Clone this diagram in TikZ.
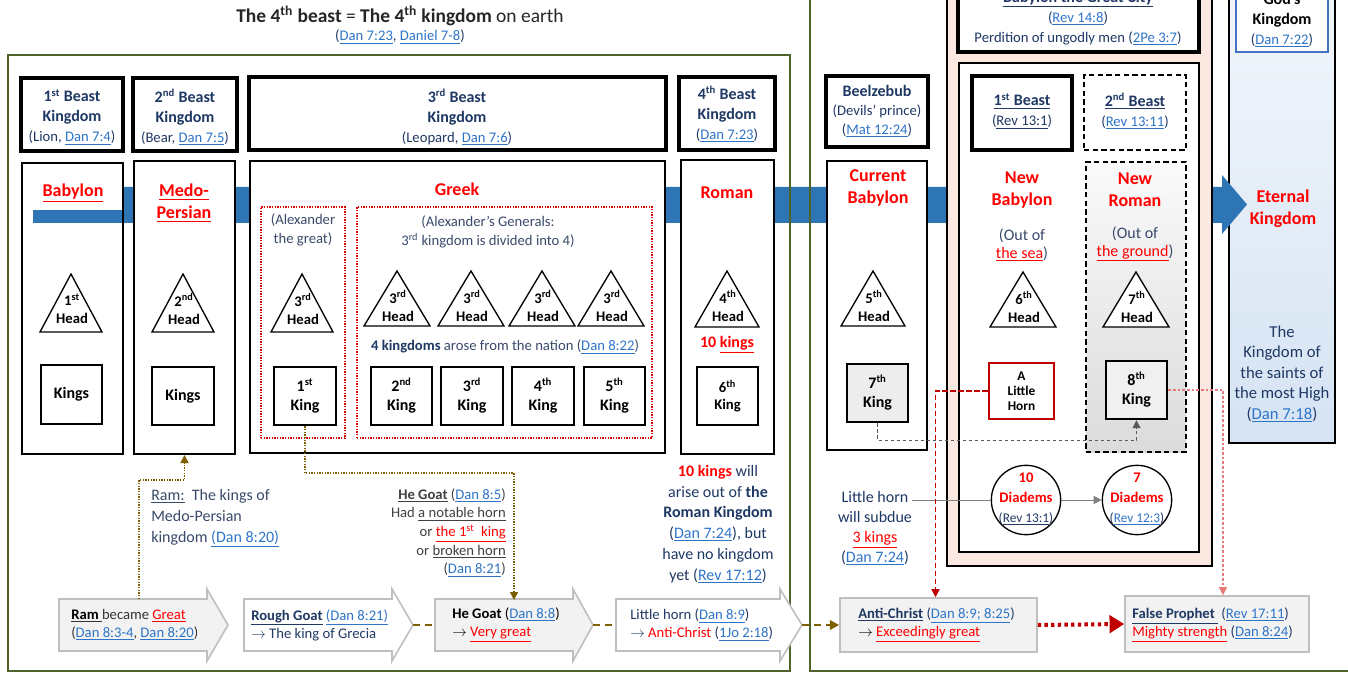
\documentclass[tikz,border=0pt]{standalone}
\usepackage{fontspec}
\setmainfont{Carlito}
\usetikzlibrary{fit,arrows.meta,calc}
\definecolor{navy}{HTML}{1F3864}
\definecolor{slate}{HTML}{3A4A6B}
\definecolor{lnk}{HTML}{2E75C8}
\definecolor{rd}{HTML}{FF0000}
\definecolor{dred}{HTML}{C00000}
\definecolor{grn}{HTML}{4F6228}
\definecolor{barblue}{HTML}{2E75B6}
\definecolor{brn}{HTML}{7F6000}
\definecolor{salmon}{HTML}{FBE9E1}
\definecolor{arrfill}{HTML}{F2F2F2}
\definecolor{arredge}{HTML}{BFBFBF}
\definecolor{godb}{HTML}{4472C4}
\definecolor{gtop}{HTML}{F2F6FB}
\definecolor{gbot}{HTML}{D5E3F3}
\definecolor{pinkd}{HTML}{E87A7A}
\newcommand\lk[1]{{\color{lnk}\underline{#1}}}
\newcommand\ru[1]{{\color{rd}\underline{#1}}}
\newcommand\sups[1]{\textsuperscript{#1}}
\newcommand\bfa[1]{{\fontsize{12}{15}\selectfont\bfseries #1}}
\newcommand\Head[6]{\draw[triline] (#1,#2) coordinate (#6) -- ++(-#3,#4) -- ++(2*#3,0) -- cycle;
  \node[headtxt] at (#1+1,#2+35) {#5\\Head};}
\newcommand\BArrow[5]{\draw[arrshape, fill=#4] (#1,599) -- (#2,599) -- (#2,589) -- (#3,625) -- (#2,661) -- (#2,651) -- (#1,651) -- cycle;
  \coordinate (#5w) at (#1,625); \coordinate (#5e) at (#3,625);}
\tikzset{
 txt/.style={inner sep=0pt, align=center, text=navy, font=\fontsize{11}{15}\selectfont},
 txtb/.style={inner sep=0pt, align=center, text=navy, font=\fontsize{12}{15.6}\selectfont},
 redt/.style={inner sep=0pt, align=center, text=rd, font=\bfseries\fontsize{13.5}{16.5}\selectfont},
 thickbox/.style={draw=black, line width=3pt, fill=white, inner sep=0pt},
 tallbox/.style={draw=black, line width=1.5pt, fill=white, inner sep=0pt},
 kingbox/.style={draw=black, line width=1.8pt, fill=white, inner sep=0pt},
 kingtxt/.style={inner sep=0pt, align=center, text=black, font=\bfseries\fontsize{12}{14.5}\selectfont},
 triline/.style={draw=black, line width=1pt, fill=white},
 headtxt/.style={inner sep=0pt, align=center, text=black, font=\bfseries\fontsize{11}{13.5}\selectfont},
 redbox/.style={draw=red!85!black, line width=1.1pt, dash pattern=on 1pt off 1pt, inner sep=0pt},
 arrshape/.style={draw=arredge, line width=1.2pt},
 arrtxt/.style={inner sep=0pt, align=left, anchor=west, text=navy, font=\fontsize{11}{13.5}\selectfont},
 brdot/.style={draw=brn, line width=1.1pt, dash pattern=on 1pt off 1pt, -{Triangle[length=6pt,width=6pt]}},
 brdash/.style={draw=brn, line width=2pt, dash pattern=on 5pt off 4pt},
 reddot/.style={draw=dred, line width=3pt, dash pattern=on 2.5pt off 2.5pt, -{Triangle[length=11pt,width=13pt]}},
 reddash/.style={draw=dred, line width=1.1pt, dash pattern=on 4pt off 2pt, -{Triangle[length=6pt,width=6pt]}},
 pinkdot/.style={draw=pinkd, line width=0.8pt, dash pattern=on 2pt off 1.5pt, -{Triangle[length=6pt,width=6pt]}},
 graydash/.style={draw=black!65, line width=0.8pt, dash pattern=on 2.5pt off 2pt, -{Triangle[length=6pt,width=6pt]}},
 grayline/.style={draw=black!50, line width=0.7pt},
}
\begin{document}
\begin{tikzpicture}[x=0.75pt,y=-0.75pt]
\useasboundingbox (0,0) rectangle (1348,673);
\clip (0,0) rectangle (1348,673);
\fill[white] (0,0) rectangle (1348,673);

% title
\node[inner sep=0pt, text=black!85, font=\fontsize{14.6}{17}\selectfont] (title) at (400,16) {\textbf{The 4\sups{th} beast} = \textbf{The 4\sups{th} kingdom} on earth};
\node[txt] (subtitle) at (400,37) {(\lk{Dan 7:23}, \lk{Daniel 7-8})};

% God's kingdom column
\node[fit={(1229,-10)(1335,443)}, draw=black, line width=1.5pt, top color=gtop, bottom color=gbot, inner sep=0pt] (godcol) {};
\node[fit={(1236,-10)(1328,52)}, draw=godb, line width=2.2pt, fill=white, inner sep=0pt] (godk) {};
\node[txt, text=black] at (1282,20) {\bfa{God’s}\\\bfa{Kingdom}\\{\color{navy}(\lk{Dan 7:22})}};

% blue timeline bar
\fill[barblue] (33,187) -- (1222,187) -- (1222,175) -- (1247,204.5) -- (1222,234) -- (1222,223) -- (33,223) -- cycle;

% green frames
\node[fit={(8,55)(790,671)}, draw=grn, line width=1.5pt, inner sep=0pt] (leftframe) {};
\node[fit={(810,-10)(1370,671)}, draw=grn, line width=1.5pt, inner sep=0pt] (rightframe) {};

% salmon frame
\node[fit={(947,-10)(1212,566)}, draw=black, line width=1.5pt, fill=salmon, inner sep=0pt] (salm) {};
\node[fit={(959,63)(1199,552)}, draw=black, line width=1.5pt, fill=white, inner sep=0pt] (inner) {};
\node[thickbox, fit={(958,-10)(1199,52)}] (bgc) {};
\node[txt] at (1078,18) {\underline{\bfa{Babylon the Great City}}\\(\lk{Rev 14:8})\\Perdition of ungodly men (\lk{2Pe 3:7})};

% top row beast boxes
\node[thickbox, fit={(21,78)(123,151)}] (tb1) {};
\node[txt] at (72,117) {\bfa{1\sups{st} Beast}\\\bfa{Kingdom}\\(Lion, \lk{Dan 7:4})};
\node[thickbox, fit={(133,78)(237,151)}] (tb2) {};
\node[txt] at (185,117) {\bfa{2\sups{nd} Beast}\\\bfa{Kingdom}\\(Bear, \lk{Dan 7:5})};
\node[thickbox, fit={(249,77)(666,150)}] (tb3) {};
\node[txt] at (457,117) {\bfa{3\sups{rd} Beast}\\\bfa{Kingdom}\\(Leopard, \lk{Dan 7:6})};
\node[thickbox, fit={(679,77)(775,150)}] (tb4) {};
\node[txt] at (727,114) {\bfa{4\sups{th} Beast}\\\bfa{Kingdom}\\(\lk{Dan 7:23})};
\node[thickbox, fit={(826,76)(928,147)}] (tbz) {};
\node[txt, font=\fontsize{11}{14.2}\selectfont] at (877,111) {\bfa{Beelzebub}\\(Devils’ prince)\\(\lk{Mat 12:24})};
\node[thickbox, fit={(972,76)(1072,150)}] (nb1) {};
\node[txt] at (1022,111) {\underline{\bfa{1\sups{st} Beast}}\\(\underline{Rev 13:1})};
\node[fit={(1084,75)(1186,150)}, draw=black, line width=1.5pt, dash pattern=on 4pt off 2.5pt, fill=white, inner sep=0pt] (nb2) {};
\node[txt] at (1135,111) {\underline{\bfa{2\sups{nd} Beast}}\\(\lk{Rev 13:11})};

% tall kingdom boxes
\fill[white] (23.5,186) rectangle (121.5,210.5);
\node[fit={(22,163)(123,454)}, draw=black, line width=1.5pt, inner sep=0pt] (tall1) {};
\node[redt] at (73,193) {\underline{Babylon}};
\node[tallbox, fit={(134,161)(235,454)}] (tall2) {};
\node[redt] at (184,203) {\underline{Medo-}\\\underline{Persian}};
\node[tallbox, fit={(250,161)(665,453)}] (tall3) {};
\node[redt] at (457,189) {Greek};
\node[redbox, fit={(261,207)(345,438)}] (alex) {};
\node[redbox, fit={(357,207)(652,438)}] (gens) {};
\node[txt, text=slate, font=\fontsize{11}{14.5}\selectfont] at (303,230) {(Alexander\\the great)};
\node[txt, text=slate, font=\fontsize{11}{14}\selectfont] at (488,232) {(Alexander’s Generals:\\3\sups{rd} kingdom is divided into 4)};
\node[txt, text=slate] at (505,347) {\textbf{\color{navy}4 kingdoms} arose from the nation (\lk{Dan 8:22})};
\node[tallbox, fit={(681,160)(774,454)}] (tall4) {};
\node[redt] at (727,193) {Roman};
\node[inner sep=0pt, text=rd, font=\bfseries\fontsize{12}{14}\selectfont] at (727,345) {10 \underline{kings}};
\node[tallbox, fit={(827,161)(927,450)}] (tall5) {};
\node[redt] at (878,188) {Current\\Babylon};
\node[redt] at (1022,190) {New\\Babylon};
\node[fit={(1086,162)(1186,452)}, draw=black, line width=1.5pt, dash pattern=on 4pt off 2.5pt, top color=black!2, bottom color=black!14, inner sep=0pt] (nroman) {};
\node[redt] at (1135,190) {New\\Roman};
\node[txt, text=slate, font=\fontsize{12}{13.5}\selectfont] at (1022,245) {(Out of\\\ru{the sea})};
\node[txt, text=slate, font=\fontsize{12}{13.5}\selectfont] at (1135,244) {(Out of\\\ru{the ground})};
\node[redt] at (1283,208.5) {Eternal\\Kingdom};
\node[txt, font=\fontsize{12.5}{15.4}\selectfont] at (1282,374) {The\\Kingdom of\\the saints of\\the most High\\(\lk{Dan 7:18})};

% heads
\Head{71}{274}{31}{58}{1\sups{st}}{h1}
\Head{183}{274}{31}{58}{2\sups{nd}}{h2}
\Head{302}{274}{31}{58}{3\sups{rd}}{h3}
\Head{397}{271}{33}{55}{3\sups{rd}}{g1}
\Head{471}{271}{33}{55}{3\sups{rd}}{g2}
\Head{542}{271}{33}{55}{3\sups{rd}}{g3}
\Head{611}{271}{33}{55}{3\sups{rd}}{g4}
\Head{727}{271}{32}{56}{4\sups{th}}{h4}
\Head{873}{271}{32}{55}{5\sups{th}}{h5}
\Head{1023}{272}{33}{55}{6\sups{th}}{h6}
\Head{1136}{272}{33}{55}{7\sups{th}}{h7}

% kings
\node[kingbox, fit={(41,365)(102,424)}] (kb1) {};
\node[kingtxt] at (kb1) {Kings};
\node[kingbox, fit={(152,367)(214,425)}] (kb2) {};
\node[kingtxt] at (kb2) {Kings};
\node[kingbox, fit={(274,367)(336,425)}] (k1) {};
\node[kingtxt] at (k1) {1\sups{st}\\King};
\node[kingbox, fit={(371,367)(432,425)}] (k2) {};
\node[kingtxt] at (k2) {2\sups{nd}\\King};
\node[kingbox, fit={(441,367)(503,425)}] (k3) {};
\node[kingtxt] at (k3) {3\sups{rd}\\King};
\node[kingbox, fit={(512,367)(574,425)}] (k4) {};
\node[kingtxt] at (k4) {4\sups{th}\\King};
\node[kingbox, fit={(584,367)(645,425)}] (k5) {};
\node[kingtxt] at (k5) {5\sups{th}\\King};
\node[kingbox, fit={(697,367)(758,425)}] (k6) {};
\node[kingtxt, font=\bfseries\fontsize{11}{13}\selectfont] at (k6) {6\sups{th}\\King};
\node[kingbox, fill=black!7, fit={(847,364)(908,422)}] (k7) {};
\node[kingtxt] at (k7) {7\sups{th}\\King};
\node[kingbox, draw=dred, fit={(989,363)(1054,419)}] (lhorn) {};
\node[kingtxt, font=\bfseries\fontsize{10}{11.2}\selectfont] at (lhorn) {A\\Little\\Horn};
\node[kingbox, fill=black!6, fit={(1106,361)(1167,419)}] (k8) {};
\node[kingtxt] at (k8) {8\sups{th}\\King};

% diadems
\node[circle, draw=black, line width=1pt, fill=white, minimum size=52pt, inner sep=0pt] (d10) at (1026,500) {};
\node[txt] at (1026,499) {\textbf{\color{rd}10}\\\textbf{\color{rd}Diadems}\\{\fontsize{10}{12}\selectfont(\underline{Rev 13:1})}};
\node[circle, draw=black, line width=1pt, fill=white, minimum size=52pt, inner sep=0pt] (d7) at (1137,500) {};
\node[txt] at (1137,499) {\textbf{\color{rd}7}\\\textbf{\color{rd}Diadems}\\{\fontsize{10}{12}\selectfont(\lk{Rev 12:3})}};
\node[txtb, font=\fontsize{12}{15}\selectfont] (lhtext) at (875,528) {Little horn\\will subdue\\\ru{3 kings}\\(\lk{Dan 7:24})};
\coordinate (lhend) at (912,500);
\draw[grayline] (lhend) -- (d10.west);
\draw[grayline, -{Triangle[length=6pt,width=6pt]}, draw=black!50] (d10.east) -- (d7.west);

% free texts
\node[txtb, text=slate, align=left, anchor=west, font=\fontsize{12}{15.7}\selectfont] (ramtxt) at (151,518) {\underline{Ram:}\ \ The kings of\\Medo-Persian\\kingdom \lk{(Dan 8:20)}};
\node[inner sep=0pt, align=right, anchor=east, text=black!75, font=\fontsize{11}{14}\selectfont] (hgtxt) at (506,532.5) {\underline{\textbf{He Goat}} (\lk{Dan 8:5})\\Had \underline{a notable horn}\\or \ru{the 1\sups{st}\ \ king}\\or \underline{broken horn}\\(\lk{Dan 8:21})};
\node[txtb] (tenk) at (718,524) {\textbf{\color{rd}10 kings} will\\arise out of \textbf{the}\\\textbf{Roman Kingdom}\\(\lk{Dan 7:24}), but\\have no kingdom\\yet (\lk{Rev 17:12})};

% bottom arrows
\BArrow{59}{207}{228}{arrfill}{a1}
\BArrow{244}{392}{413}{white}{a2}
\BArrow{435}{573}{593}{arrfill}{a3}
\BArrow{616}{780}{802}{white}{a4}
\node[arrtxt, text=black!80] at (71,625) {\underline{\textbf{\color{black}Ram\ }}became \ru{Great}\\(\lk{Dan 8:3-4}, \lk{Dan 8:20})};
\node[arrtxt] at (251,625) {\underline{\textbf{Rough Goat}}\ \lk{(Dan 8:21)}\\$\rightarrow$ The king of Grecia};
\node[arrtxt, text=black] at (452,625) {\textbf{He Goat} (\lk{Dan 8:8})\\$\rightarrow$ \ru{Very great}};
\node[arrtxt] at (630,625) {Little horn (\lk{Dan 8:9})\\$\rightarrow$ {\color{rd}Anti-Christ} (\lk{1Jo 2:18})};
\node[fit={(840,598)(1037,652)}, draw=arredge, line width=1.2pt, fill=arrfill, inner sep=0pt] (ac) {};
\node[arrtxt] at (858,625) {\underline{\textbf{Anti-Christ}} (\lk{Dan 8:9; 8:25})\\{\color{black}$\rightarrow$} \ru{Exceedingly great}};
\node[fit={(1125,596)(1309,652)}, draw=arredge, line width=1.2pt, fill=arrfill, inner sep=0pt] (fp) {};
\node[arrtxt] at (1132,625) {\underline{\textbf{False Prophet}\ }\ (\lk{Rev 17:11})\\\ru{Mighty strength} (\lk{Dan 8:24})};

% connectors
\coordinate (a1n) at (139,599);
\coordinate (a3n) at (514,600);
\draw[brdot] (a1n) -- ++(0,-119) -| (tall2.south);
\draw[brdot] (k1.south) -- ++(0,47) -| (a3n);
\draw[brdash] (a2e) -- (a3w);
\draw[brdash] (a3e) -- (a4w);
\draw[brdash, -{Triangle[length=7pt,width=7pt]}] (a4e) -- (ac.west);
\draw[reddot] (ac.east) -- (fp.west);
\draw[reddash] (lhorn.west) -| ($(ac.north)+(-3,0)$);
\draw[pinkdot] (k8.east) -| ($(fp.north)+(6,0)$);
\draw[graydash] (k7.south) |- ($(k8.south)+(0,20)$) -- (k8.south);
\end{tikzpicture}
\end{document}
